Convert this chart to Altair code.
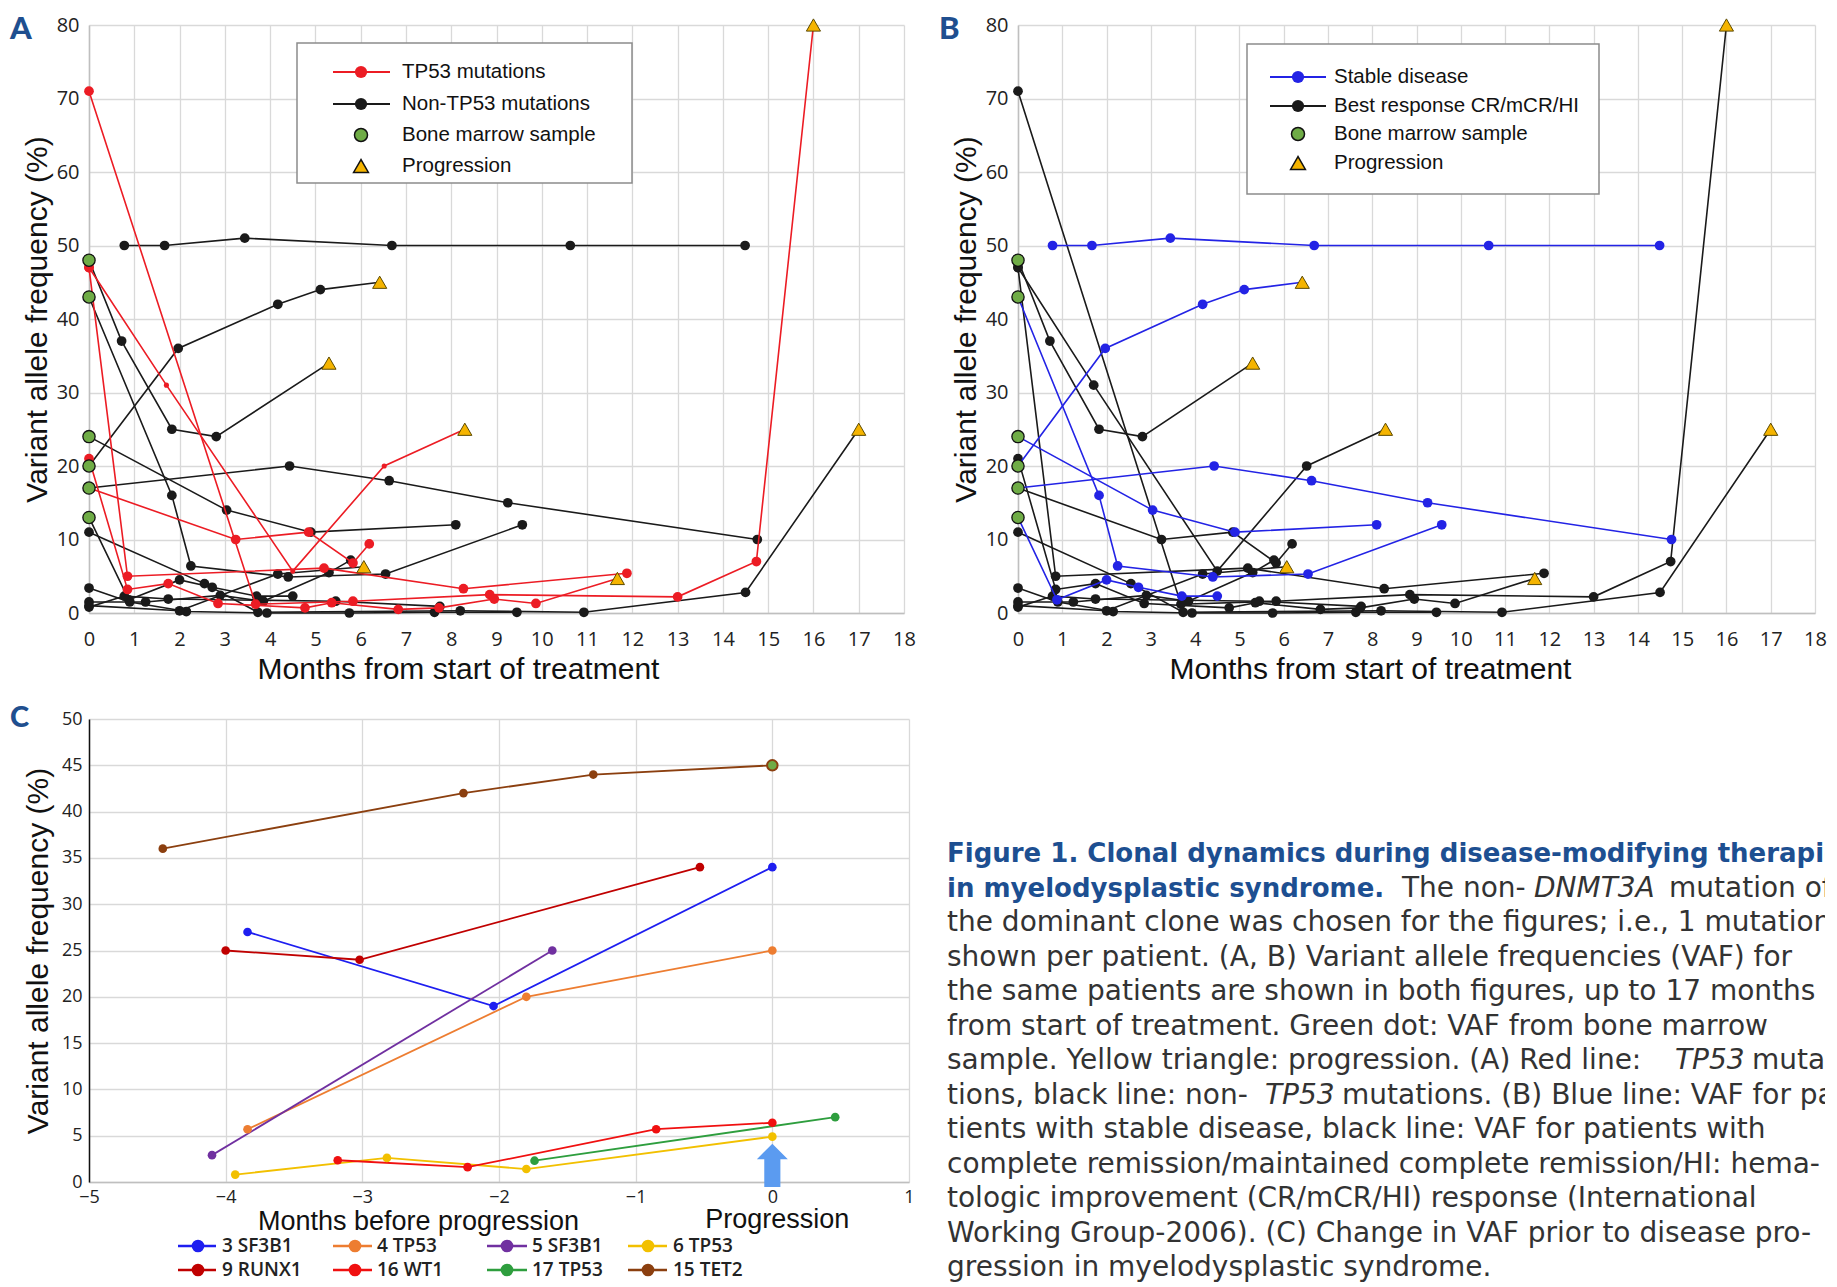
import altair as alt
import pandas as pd

# ---------------- fonts & colours ----------------
TITLE_FONT = "Liberation Sans"
TICK_FONT = "Open Sans"
CAP_FONT = "DejaVu Sans"
RED = "#ec1c24"
BLUE = "#2323e5"
BLACK = "#1a1a1a"
GREEN = "#6fac46"
YELLOW = "#f5b400"
GRID = "#d9d9d9"
DOMAIN = "#bfbfbf"
LETTER = "#1f4f8f"

# ---------------- panels A & B: one list per patient ----------------
PAT_X = [
    [0.78, 1.67, 3.44, 6.69, 10.63, 14.49],
    [0, 1.97, 4.17, 5.11, 6.42],
    [0, 0.72, 1.83, 2.81, 5.3],
    [0, 1.83, 2.25, 4.4, 6.55, 9.57],
    [0, 3.04, 4.9, 8.1],
    [0, 4.43, 6.63, 9.25, 14.76],
    [0, 0.88, 2.0, 2.72, 3.7, 4.5],
    [0, 2.55, 3.73, 8.2, 10.93, 14.5, 17],
    [0, 0.9, 2.15, 3.93, 5.75, 7.63, 9.45],
    [0, 1.25, 2.9, 3.85, 5.3, 5.78],
    [0, 0.78, 1.75, 5.45, 7.75],
    [0, 2.0, 4.17, 6.07],
    [0, 3.68, 5.83, 8.85, 13.0, 14.74, 16],
    [0, 1.71, 4.5, 6.52, 8.3],
    [0, 0.85, 5.19, 8.27, 11.88],
    [0, 3.24, 4.85, 5.83, 6.19],
    [0, 0.85, 1.75, 2.85, 4.77, 5.36, 6.83, 7.73, 8.95, 9.87, 11.67],
]
PAT_Y = [
    [50, 50, 51, 50, 50, 50],
    [20, 36, 42, 44, 45],
    [48, 37, 25, 24, 34],
    [43, 16, 6.4, 4.9, 5.3, 12],
    [24, 14, 11, 12],
    [17, 20, 18, 15, 10],
    [13, 1.8, 4.5, 3.5, 2.3, 2.3],
    [11, 4.0, 0.1, 0.3, 0.1, 2.8, 25],
    [3.4, 1.5, 0.2, 0, 0, 0.1, 0.1],
    [1.5, 1.5, 2.4, 1.6, 5.5, 7.2],
    [0.8, 2.3, 1.9, 1.6, 0.9],
    [1.0, 0.3, 5.3, 6.3],
    [71, 1.2, 1.6, 2.5, 2.2, 7.0, 80],
    [47, 31, 5.7, 20, 25],
    [47, 5.0, 6.1, 3.3, 5.4],
    [17, 10, 11, 6.8, 9.4],
    [21, 3.2, 4.0, 1.3, 0.7, 1.4, 0.5, 0.7, 1.9, 1.3, 4.7],
]
PAT_TP53 = [False] * 12 + [True] * 5
PAT_STABLE = [True, True, False, True, True, True, True] + [False] * 10
PAT_BM = [False, True, True, True, True, True, True] + [False] * 10
PAT_PROG = [False, True, True, False, False, False, False, True, False, False,
            False, True, True, True, False, False, True]
PAT_SMALL_A = [False] * 13 + [True] + [False] * 3

MONTHS_TICKS = list(range(0, 19))
VAF_TICKS = list(range(0, 81, 10))
X_TITLE_AB = "Months from start of treatment"
Y_TITLE = "Variant allele frequency (%)"
A_LEGEND = ["TP53 mutations", "Non-TP53 mutations", "Bone marrow sample", "Progression"]
B_LEGEND = ["Stable disease", "Best response CR/mCR/HI", "Bone marrow sample", "Progression"]

# ---------------- panel C ----------------
C_SERIES = ["3 SF3B1", "4 TP53", "5 SF3B1", "6 TP53", "9 RUNX1", "16 WT1", "17 TP53", "15 TET2"]
C_COLORS = ["#1e1ef0", "#ed7d31", "#7030a0", "#f2c000", "#c00000", "#f01010", "#2e9e3e", "#8b3f0f"]
C_X = [
    [-3.84, -2.04, 0],
    [-3.84, -1.8, 0],
    [-4.1, -1.61],
    [-3.93, -2.82, -1.8, 0],
    [-4.0, -3.02, -0.53],
    [-3.18, -2.23, -0.85, 0],
    [-1.74, 0.46],
    [-4.46, -2.26, -1.31, 0],
]
C_Y = [
    [27, 19, 34],
    [5.7, 20, 25],
    [2.9, 25],
    [0.8, 2.6, 1.4, 4.9],
    [25, 24, 34],
    [2.35, 1.6, 5.7, 6.4],
    [2.3, 7.0],
    [36, 42, 44, 45],
]
C_BM_SERIES = "15 TET2"
C_XTICKS = [-5, -4, -3, -2, -1, 0, 1]
C_YTICKS = list(range(0, 51, 5))
C_XTITLE = "Months before progression"
C_PROG_LABEL = "Progression"
C_PROG_AT = 0
ARROW_PATH = "M0,-1.4L1,-0.4L0.52,-0.4L0.52,1.4L-0.52,1.4L-0.52,-0.4L-1,-0.4Z"

# ---------------- caption ----------------
CAPTION = [
    [("Figure 1. Clonal dynamics during disease-modifying therapies", "b")],
    [("in myelodysplastic syndrome.", "b"), ("The non-", "r"), ("DNMT3A", "i"), ("mutation of", "r")],
    [("the dominant clone was chosen for the figures; i.e., 1 mutation is", "r")],
    [("shown per patient. (A, B) Variant allele frequencies (VAF) for", "r")],
    [("the same patients are shown in both figures, up to 17 months", "r")],
    [("from start of treatment. Green dot: VAF from bone marrow", "r")],
    [("sample. Yellow triangle: progression. (A) Red line:", "r"), ("TP53", "i"), ("muta-", "r")],
    [("tions, black line: non-", "r"), ("TP53", "i"), ("mutations. (B) Blue line: VAF for pa-", "r")],
    [("tients with stable disease, black line: VAF for patients with", "r")],
    [("complete remission/maintained complete remission/HI: hema-", "r")],
    [("tologic improvement (CR/mCR/HI) response (International", "r")],
    [("Working Group-2006). (C) Change in VAF prior to disease pro-", "r")],
    [("gression in myelodysplastic syndrome.", "r")],
]
CAPTION_SEG_X = [[0], [0, 455, 587, 722], [0], [0], [0], [0], [0, 728, 805],
                 [0, 318, 395], [0], [0], [0], [0], [0]]

# ---------------- layout sizes ----------------
A_W, A_H = 815, 588
B_W, B_H = 797, 588
C_W, C_H = 820, 463
CAP_W, CAP_H = 878, 563

ONE = pd.DataFrame({"k": [0]})

rows = []
for pid, (xs, ys) in enumerate(zip(PAT_X, PAT_Y)):
    n = len(xs)
    for i, (x, y) in enumerate(zip(xs, ys)):
        if i == 0 and PAT_BM[pid]:
            kind = "bm"
        elif i == n - 1 and PAT_PROG[pid]:
            kind = "prog"
        else:
            kind = "dot"
        rows.append(dict(pid=pid, i=i, x=x, y=y, tp53=PAT_TP53[pid], stable=PAT_STABLE[pid],
                         kind=kind, szA=(26 if (PAT_SMALL_A[pid] and i > 0) else 95), szB=95))
df = pd.DataFrame(rows)


def text_layer(label, x, y, size, font=TITLE_FONT, color="#111", weight="normal", align="left"):
    return alt.Chart(ONE).mark_text(align=align, baseline="middle", font=font, fontSize=size,
                                    color=color, fontWeight=weight).encode(
        x=alt.value(x), y=alt.value(y), text=alt.value(label))


def legend_layers(labels, accent, box, rows_y, line_x, mark_x, text_x):
    out = [alt.Chart(ONE).mark_rect(fill="white", stroke="#8c8c8c", strokeWidth=1.5).encode(
        x=alt.value(box[0]), x2=alt.value(box[1]), y=alt.value(box[2]), y2=alt.value(box[3]))]
    for k, (lab, ry) in enumerate(zip(labels, rows_y)):
        if k < 2:
            col = accent if k == 0 else BLACK
            out.append(alt.Chart(ONE).mark_rule(color=col, strokeWidth=2).encode(
                x=alt.value(line_x[0]), x2=alt.value(line_x[1]), y=alt.value(ry)))
            out.append(alt.Chart(ONE).mark_circle(color=col, size=150, opacity=1).encode(
                x=alt.value(mark_x), y=alt.value(ry)))
        elif k == 2:
            out.append(alt.Chart(ONE).mark_point(shape="circle", filled=True, fill=GREEN, stroke="#111",
                                                 strokeWidth=1.5, size=170, opacity=1).encode(
                x=alt.value(mark_x), y=alt.value(ry)))
        else:
            out.append(alt.Chart(ONE).mark_point(shape="triangle-up", filled=True, fill=YELLOW, stroke="#111",
                                                 strokeWidth=1.5, size=220, opacity=1).encode(
                x=alt.value(mark_x), y=alt.value(ry)))
        out.append(text_layer(lab, text_x, ry, 20.5))
    return out


def vaf_panel(flag_col, accent, letter, labels, w, h, size_col, title_x, lg):
    xenc = alt.X("x:Q", scale=alt.Scale(domain=[0, 18], nice=False, zero=False),
                 axis=alt.Axis(values=MONTHS_TICKS, title=X_TITLE_AB, grid=True, gridColor=GRID,
                               gridWidth=1.3, domainColor=DOMAIN, domainWidth=1.5, ticks=False,
                               labelPadding=16, labelFont=TICK_FONT, labelFontSize=20, labelColor="#222",
                               labelFlush=False, labelOverlap=False,
                               titleFont=TITLE_FONT, titleFontSize=30, titleFontWeight="normal",
                               titleColor="#111", titleX=title_x, titleY=65, titleBaseline="alphabetic"))
    yenc = alt.Y("y:Q", scale=alt.Scale(domain=[0, 80], nice=False),
                 axis=alt.Axis(values=VAF_TICKS, title=Y_TITLE, grid=True, gridColor=GRID, gridWidth=1.3,
                               domainColor=DOMAIN, domainWidth=1.5, ticks=False, labelPadding=10,
                               labelFont=TICK_FONT, labelFontSize=20, labelColor="#222", labelOverlap=False,
                               titleFont=TITLE_FONT, titleFontSize=30, titleFontWeight="normal",
                               titleColor="#111", titlePadding=4))
    layers = []
    for flag, col in [(False, BLACK), (True, accent)]:
        sub = df[df[flag_col] == flag]
        layers.append(alt.Chart(sub).mark_line(color=col, strokeWidth=1.6).encode(
            x=xenc, y=yenc, detail="pid:N", order="i:Q"))
        layers.append(alt.Chart(sub[sub.kind == "dot"]).mark_circle(color=col, opacity=1).encode(
            x=xenc, y=yenc, size=alt.Size(f"{size_col}:Q", scale=None)))
    layers.append(alt.Chart(df[df.kind == "bm"]).mark_point(
        shape="circle", filled=True, fill=GREEN, stroke="#111", strokeWidth=1.3, size=150, opacity=1).encode(
        x=xenc, y=yenc))
    layers.append(alt.Chart(df[df.kind == "prog"]).mark_point(
        shape="triangle-up", filled=True, fill=YELLOW, stroke="#5c4a00", strokeWidth=1, size=200, opacity=1).encode(
        x=xenc, y=yenc))
    layers += legend_layers(labels, accent, *lg)
    layers.append(text_layer(letter, -79, 5, 31, font="Lato", color=LETTER, weight=900))
    return alt.layer(*layers).properties(width=w, height=h)


panel_a = vaf_panel("tp53", RED, "A", A_LEGEND, A_W, A_H, "szA", 369,
                    ((208, 543, 18, 158), [47, 79, 110, 141], (244, 301), 272, 313))
panel_b = vaf_panel("stable", BLUE, "B", B_LEGEND, B_W, B_H, "szB", 352,
                    ((229, 581, 19, 169), [52, 81, 109, 138], (252, 308), 280, 316))

# ---------------- panel C ----------------
crow = []
for name, xs, ys in zip(C_SERIES, C_X, C_Y):
    for i, (x, y) in enumerate(zip(xs, ys)):
        crow.append(dict(series=name, i=i, x=x, y=y, last=(i == len(xs) - 1)))
cdf = pd.DataFrame(crow)

cx = alt.X("x:Q", scale=alt.Scale(domain=[-5, 1], nice=False, zero=False),
           axis=alt.Axis(values=C_XTICKS, format="d", title=C_XTITLE, grid=True, gridColor=GRID, gridWidth=1.3,
                         domainColor=DOMAIN, domainWidth=1.5, ticks=False, labelPadding=6,
                         labelFont=TICK_FONT, labelFontSize=18, labelColor="#222", labelFlush=False,
                         labelOverlap=False, titleFont=TITLE_FONT, titleFontSize=27, titleFontWeight="normal",
                         titleColor="#111", titleX=329, titleY=47, titleBaseline="alphabetic"))
cy = alt.Y("y:Q", scale=alt.Scale(domain=[0, 50], nice=False),
           axis=alt.Axis(values=C_YTICKS, title=Y_TITLE, grid=True, gridColor=GRID, gridWidth=1.3,
                         domainColor="#111", domainWidth=1.5, ticks=False, labelPadding=7,
                         labelFont=TICK_FONT, labelFontSize=18, labelColor="#222", labelOverlap=False,
                         titleFont=TITLE_FONT, titleFontSize=30, titleFontWeight="normal",
                         titleColor="#111", titlePadding=8))
ccol = alt.Color("series:N", scale=alt.Scale(domain=C_SERIES, range=C_COLORS), legend=None)

c_layers = [
    alt.Chart(cdf).mark_line(strokeWidth=1.8).encode(x=cx, y=cy, color=ccol, order="i:Q"),
    alt.Chart(cdf).mark_circle(size=75, opacity=1).encode(x=cx, y=cy, color=ccol),
    alt.Chart(cdf[(cdf.series == C_BM_SERIES) & cdf["last"]]).mark_point(
        shape="circle", filled=True, fill=GREEN, stroke="#8b3f0f", strokeWidth=2, size=110, opacity=1).encode(
        x=cx, y=cy),
    alt.Chart(ONE).mark_point(shape=ARROW_PATH, filled=True, fill="#5b9bf0", strokeWidth=0, size=961,
                              opacity=1).encode(x=alt.datum(C_PROG_AT), y=alt.datum(1.8)),
    alt.Chart(ONE).mark_text(font=TITLE_FONT, fontSize=27, align="center", baseline="middle", color="#111",
                             dx=5).encode(
        x=alt.datum(C_PROG_AT), y=alt.value(501), text=alt.value(C_PROG_LABEL)),
    text_layer("C", -79, -1.5, 29, font="Lato", color=LETTER, weight=900),
]
leg_cols = [(89, 127, 109, 133), (244, 283, 266, 288), (398, 438, 418, 443), (539, 578, 559, 584)]
leg_rows = [527, 551]
for k, (name, col) in enumerate(zip(C_SERIES, C_COLORS)):
    lx0, lx1, mx, tx = leg_cols[k % 4]
    ry = leg_rows[k // 4]
    c_layers.append(alt.Chart(ONE).mark_rule(color=col, strokeWidth=2.5).encode(
        x=alt.value(lx0), x2=alt.value(lx1), y=alt.value(ry)))
    c_layers.append(alt.Chart(ONE).mark_circle(color=col, size=160, opacity=1).encode(
        x=alt.value(mx), y=alt.value(ry)))
    c_layers.append(alt.Chart(ONE).mark_text(align="left", baseline="middle", font=TICK_FONT, fontSize=19,
                                             fontWeight=600, color="#222").encode(
        x=alt.value(tx), y=alt.value(ry), text=alt.value(name)))
panel_c = alt.layer(*c_layers).properties(width=C_W, height=C_H)

# ---------------- caption ----------------
LINE_GAP = 34.5
FIRST_LINE = 135
cap_rows = []
for li, (segs, xs) in enumerate(zip(CAPTION, CAPTION_SEG_X)):
    for (txt, style), px in zip(segs, xs):
        cap_rows.append(dict(line=li, px=px, txt=txt, style=style))
capdf = pd.DataFrame(cap_rows)
y0 = -FIRST_LINE / LINE_GAP
y1 = y0 + CAP_H / LINE_GAP
capx = alt.X("px:Q", scale=alt.Scale(domain=[0, CAP_W], nice=False, zero=False), axis=None)
capy = alt.Y("line:Q", scale=alt.Scale(domain=[y0, y1], nice=False, zero=False, reverse=True), axis=None)
cap_layers = []
for style, color, weight, fstyle, fsize in [("b", "#1d4f91", "bold", "normal", 26),
                                            ("r", "#333333", "normal", "normal", 28),
                                            ("i", "#333333", "normal", "italic", 28)]:
    cap_layers.append(alt.Chart(capdf[capdf["style"] == style]).mark_text(
        align="left", baseline="middle", font=CAP_FONT, fontSize=fsize, color=color, fontWeight=weight,
        fontStyle=fstyle, clip=True).encode(x=capx, y=capy, text="txt:N"))
caption = alt.layer(*cap_layers).properties(
    width=CAP_W, height=CAP_H, view=alt.ViewBackground(stroke="transparent", strokeWidth=0))

top = alt.hconcat(panel_a, panel_b, spacing=23)
bottom = alt.hconcat(panel_c, caption, spacing=32)
chart = alt.vconcat(top, bottom, spacing=19).properties(
    padding={"left": 2, "top": 6, "right": 0, "bottom": 0}
).configure(
    background="white", style={"cell": {"stroke": "transparent", "strokeWidth": 0}}
).configure_view(strokeWidth=0, stroke="transparent")

chart.save("out.html", embed_options={"renderer": "svg", "actions": False})
